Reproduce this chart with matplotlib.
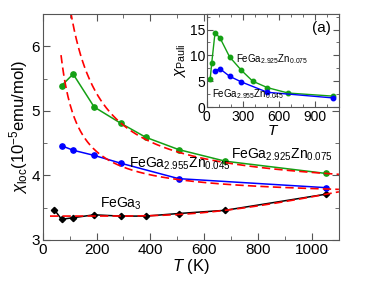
import numpy as np
import matplotlib
matplotlib.use('Agg')
import matplotlib.pyplot as plt
from matplotlib.ticker import MultipleLocator

plt.rcParams['font.family'] = ['Liberation Sans', 'DejaVu Sans']
plt.rcParams['mathtext.fontset'] = 'custom'
plt.rcParams['mathtext.rm'] = 'Liberation Sans'
plt.rcParams['mathtext.it'] = 'Liberation Sans:italic'
plt.rcParams['mathtext.bf'] = 'Liberation Sans:bold'

# ---- main panel data ----
T_fega3 = [43, 70, 113, 191, 289, 383, 505, 678, 1053]
chi_fega3 = [3.47, 3.32, 3.345, 3.39, 3.37, 3.37, 3.41, 3.46, 3.71]
T_zn045 = [70, 113, 191, 289, 505, 1053]
chi_zn045 = [4.46, 4.39, 4.31, 4.19, 3.95, 3.81]
T_zn075 = [70, 113, 191, 289, 383, 505, 678, 1053]
chi_zn075 = [5.39, 5.57, 5.06, 4.81, 4.59, 4.40, 4.22, 4.03]

# ---- inset data ----
T_pauli_zn075 = [30, 43, 70, 113, 191, 289, 383, 505, 678, 1053]
pauli_zn075 = [5.5, 8.6, 14.4, 13.3, 9.7, 7.1, 5.0, 3.75, 2.7, 2.1]
T_pauli_zn045 = [70, 113, 191, 289, 505, 1053]
pauli_zn045 = [7.05, 7.35, 5.95, 4.85, 2.85, 1.75]

# ---- fit parameters ----
fit_zn075 = (3.719, 332.0, -14.0)   # chi0 + C/(T - theta)
fit_zn045 = (3.657, 139.0, 5.0)
fit_fega3 = (3.37, 3.76, 2532.0)    # chi0 + A*exp(-D/T)
fit_T_range_cw = (68, 1100)
fit_T_range_fega3 = (27, 1100)

labels = ['FeGa$_3$', 'FeGa$_{2.955}$Zn$_{0.045}$', 'FeGa$_{2.925}$Zn$_{0.075}$']

GREEN = '#14a014'
BLUE = '#0000ff'
RED = '#ff0000'
SPINE = '#555555'

fig = plt.figure(figsize=(3.66, 2.83), dpi=100)
ax = fig.add_axes([0.1167, 0.152, 0.8093, 0.7985])

ax.plot(T_fega3, chi_fega3, '-', color='black', marker='D', ms=3.2, lw=1.1)
ax.plot(T_zn045, chi_zn045, '-', color=BLUE, marker='o', ms=3.8, lw=1.1)
ax.plot(T_zn075, chi_zn075, '-', color=GREEN, marker='o', ms=3.8, lw=1.1)

Tc = np.linspace(*fit_T_range_cw, 400)
for (c0, C, th) in (fit_zn075, fit_zn045):
    ax.plot(Tc, c0 + C / (Tc - th), color=RED, lw=1.2, dashes=(5, 2.5))
Tf = np.linspace(*fit_T_range_fega3, 400)
c0, A, D = fit_fega3
ax.plot(Tf, c0 + A * np.exp(-D / Tf), color=RED, lw=1.2, dashes=(5, 2.5))

ax.set_xlim(0, 1100)
ax.set_ylim(3, 6.5)
ax.xaxis.set_major_locator(MultipleLocator(200))
ax.xaxis.set_minor_locator(MultipleLocator(100))
ax.yaxis.set_major_locator(MultipleLocator(1))
ax.yaxis.set_minor_locator(MultipleLocator(0.5))
ax.tick_params(which='both', direction='in', top=True, right=True, color=SPINE, labelsize=11, pad=2)
ax.tick_params(which='major', length=5)
ax.tick_params(which='minor', length=3)
for s in ax.spines.values():
    s.set_color(SPINE)
ax.set_xlabel('$T$ (K)', fontsize=12, labelpad=0)
ax.set_ylabel('$\\chi_{\\rm loc}$(10$^{-5}$emu/mol)', fontsize=12, labelpad=1)

ax.text(212, 3.50, labels[0], fontsize=10, va='baseline')
ax.text(321, 4.12, labels[1], fontsize=10, va='baseline')
ax.text(698, 4.26, labels[2], fontsize=10, va='baseline')

# ---- inset ----
ins = fig.add_axes([0.5645, 0.6219, 0.3617, 0.3286])
ins.plot(T_pauli_zn075, pauli_zn075, '-', color=GREEN, marker='o', ms=3.2, lw=1.0)
ins.plot(T_pauli_zn045, pauli_zn045, '-', color=BLUE, marker='o', ms=3.2, lw=1.0)
ins.set_xlim(0, 1100)
ins.set_ylim(0, 18)
ins.xaxis.set_major_locator(MultipleLocator(300))
ins.xaxis.set_minor_locator(MultipleLocator(100))
ins.yaxis.set_major_locator(MultipleLocator(5))
ins.yaxis.set_minor_locator(MultipleLocator(2.5))
ins.tick_params(which='both', direction='in', top=True, right=True, color=SPINE, labelsize=10, pad=1)
ins.tick_params(axis='x', which='both', pad=2)
ins.tick_params(which='major', length=4)
ins.tick_params(which='minor', length=2.5)
for s in ins.spines.values():
    s.set_color(SPINE)
ins.set_xlabel('$T$', fontsize=11, labelpad=0)
ins.set_ylabel('$\\chi_{\\rm Pauli}$', fontsize=11, labelpad=1)
ins.text(242, 8.7, labels[2], fontsize=7, va='baseline')
ins.text(42, 1.94, labels[1], fontsize=7, va='baseline')
ins.text(951, 15.25, '(a)', fontsize=11, ha='center', va='center')

fig.savefig('out.png', dpi=100)
